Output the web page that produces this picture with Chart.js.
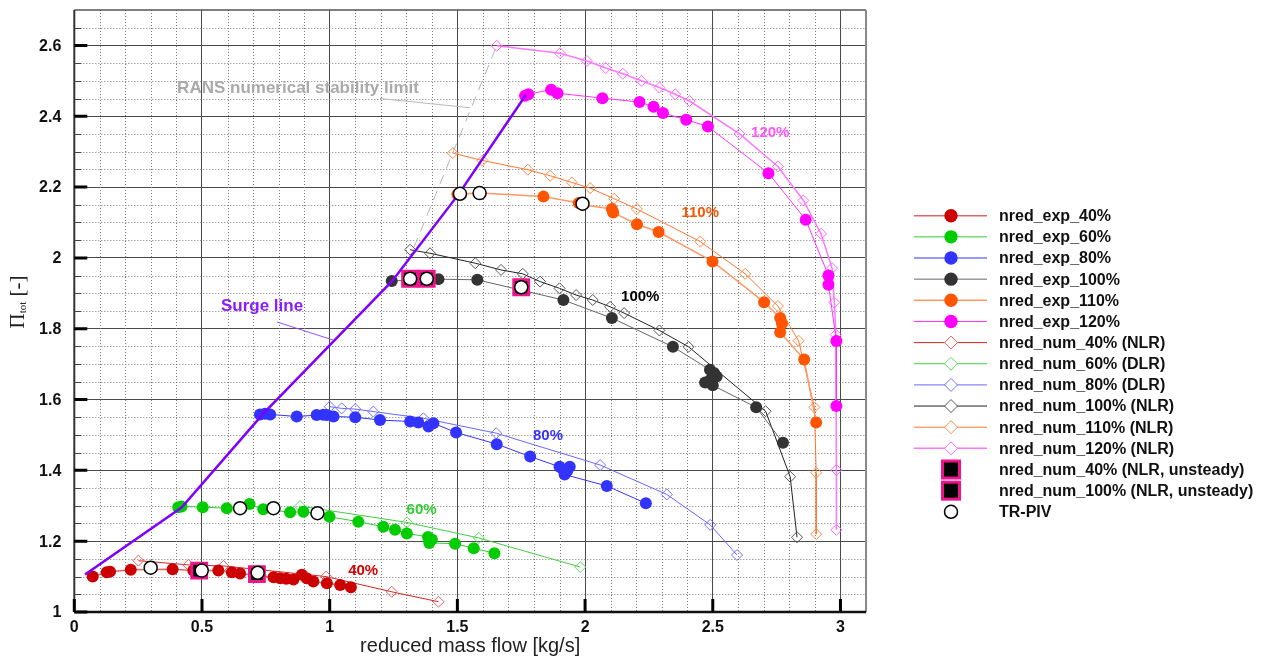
<!DOCTYPE html>
<html>
<head>
<meta charset="utf-8">
<title>Compressor map</title>
<script src="https://cdn.jsdelivr.net/npm/chart.js@4.4.1/dist/chart.umd.min.js"></script>
<style>
  html, body { margin: 0; padding: 0; background: #fff; }
  #wrap { width: 1266px; height: 659px; }
</style>
</head>
<body>
<div id="wrap"><canvas id="mapChart"></canvas></div>
<script>
// measured speed lines
const exp40X = [0.072, 0.127, 0.14, 0.221, 0.385, 0.466, 0.564, 0.617, 0.649, 0.78, 0.806, 0.83, 0.858, 0.891, 0.91, 0.936, 0.989, 1.041, 1.083];
const exp40Y = [1.100, 1.112, 1.114, 1.119, 1.121, 1.117, 1.117, 1.112, 1.109, 1.098, 1.095, 1.094, 1.092, 1.105, 1.095, 1.086, 1.081, 1.076, 1.070];
const exp60X = [0.407, 0.42, 0.503, 0.597, 0.686, 0.74, 0.845, 0.897, 0.949, 0.999, 1.112, 1.21, 1.256, 1.302, 1.385, 1.40, 1.39, 1.491, 1.564, 1.645];
const exp60Y = [1.296, 1.298, 1.296, 1.293, 1.305, 1.290, 1.282, 1.283, 1.279, 1.269, 1.255, 1.241, 1.232, 1.222, 1.212, 1.205, 1.195, 1.193, 1.180, 1.166];
const exp80X = [0.727, 0.747, 0.767, 0.871, 0.949, 0.975, 0.989, 1.015, 1.10, 1.197, 1.315, 1.347, 1.387, 1.406, 1.495, 1.654, 1.785, 1.90, 1.915, 1.94, 1.93, 1.92, 2.085, 2.238];
const exp80Y = [1.558, 1.560, 1.558, 1.552, 1.556, 1.557, 1.556, 1.552, 1.550, 1.542, 1.538, 1.535, 1.524, 1.533, 1.507, 1.474, 1.439, 1.410, 1.401, 1.410, 1.398, 1.388, 1.356, 1.307];
const exp100X = [1.243, 1.426, 1.578, 1.915, 2.105, 2.344, 2.489, 2.505, 2.515, 2.49, 2.47, 2.50, 2.67, 2.775];
const exp100Y = [1.935, 1.940, 1.938, 1.881, 1.830, 1.749, 1.684, 1.675, 1.665, 1.655, 1.648, 1.640, 1.578, 1.478];
const exp110X = [1.50, 1.59, 1.837, 1.975, 1.99, 2.105, 2.11, 2.203, 2.288, 2.499, 2.701, 2.764, 2.771, 2.764, 2.858, 2.905];
const exp110Y = [2.180, 2.183, 2.173, 2.155, 2.150, 2.138, 2.128, 2.095, 2.073, 1.990, 1.875, 1.830, 1.815, 1.790, 1.713, 1.535];
const exp120X = [1.765, 1.778, 1.867, 1.892, 2.068, 2.213, 2.268, 2.305, 2.396, 2.481, 2.718, 2.864, 2.953, 2.953, 2.984, 2.984];
const exp120Y = [2.458, 2.462, 2.475, 2.465, 2.451, 2.440, 2.427, 2.409, 2.390, 2.371, 2.239, 2.108, 1.950, 1.924, 1.765, 1.582];

// simulated speed lines
const num40X = [0.251, 0.447, 0.584, 0.986, 1.243, 1.426];
const num40Y = [1.145, 1.133, 1.130, 1.100, 1.057, 1.029];
const num60X = [0.884, 1.302, 1.584, 1.981];
const num60Y = [1.299, 1.253, 1.209, 1.127];
const num80X = [1.0, 1.047, 1.10, 1.171, 1.367, 1.652, 2.059, 2.32, 2.49, 2.595];
const num80Y = [1.580, 1.575, 1.573, 1.566, 1.547, 1.505, 1.415, 1.332, 1.246, 1.161];
const num100X = [1.315, 1.393, 1.57, 1.671, 1.756, 1.824, 1.90, 1.965, 2.03, 2.098, 2.153, 2.291, 2.405, 2.707, 2.803, 2.83];
const num100Y = [2.023, 2.013, 1.985, 1.966, 1.955, 1.933, 1.914, 1.895, 1.881, 1.862, 1.844, 1.795, 1.749, 1.567, 1.382, 1.211];
const num110X = [1.482, 1.598, 1.776, 1.863, 1.948, 2.02, 2.114, 2.203, 2.451, 2.627, 2.755, 2.836, 2.898, 2.905, 2.905];
const num110Y = [2.296, 2.275, 2.249, 2.232, 2.213, 2.197, 2.167, 2.138, 2.046, 1.955, 1.864, 1.766, 1.578, 1.393, 1.220];
const num120X = [1.654, 1.902, 2.007, 2.081, 2.148, 2.221, 2.291, 2.353, 2.409, 2.605, 2.755, 2.855, 2.924, 2.967, 2.976, 2.982, 2.984, 2.984];
const num120Y = [2.599, 2.578, 2.556, 2.536, 2.520, 2.500, 2.481, 2.462, 2.443, 2.350, 2.258, 2.162, 2.068, 1.971, 1.874, 1.783, 1.401, 1.232];

// unsteady runs and PIV operating points
const unsteady40X = [0.489, 0.715];
const unsteady40Y = [1.117, 1.107];
const unsteady100X = [1.315, 1.38, 1.75];
const unsteady100Y = [1.941, 1.941, 1.917];
const pivX = [0.299, 0.499, 0.718, 0.649, 0.780, 0.952, 1.315, 1.38, 1.75, 1.51, 1.587, 1.99];
const pivY = [1.125, 1.117, 1.111, 1.293, 1.293, 1.279, 1.941, 1.941, 1.917, 2.181, 2.183, 2.153];

// surge line and RANS limit
const surgeX = [0.042, 0.42, 0.74, 1.245, 1.505, 1.768];
const surgeY = [1.106, 1.295, 1.56, 1.935, 2.18, 2.46];
const limitX = [1.33, 1.654];
const limitY = [2.03, 2.599];

const xTicks = [0, 0.5, 1, 1.5, 2, 2.5, 3];
const yTicks = [1, 1.2, 1.4, 1.6, 1.8, 2, 2.2, 2.4, 2.6];

const SANS = '"Liberation Sans", Arial, sans-serif';
const SERIF = '"Liberation Serif", "Times New Roman", serif';

function pts(xs, ys) {
    return xs.map((x, i) => ({ x: x, y: ys[i] }));
}

function expSet(label, xs, ys, marker, line, width) {
    return {
        label: label, data: pts(xs, ys), showLine: true,
        borderColor: line, borderWidth: width,
        pointStyle: 'circle', pointRadius: 6, pointBackgroundColor: marker,
        pointBorderColor: marker, pointBorderWidth: 0,
        order: 3, inLegend: true
    };
}

function numSet(label, xs, ys, marker, line, width) {
    return {
        label: label, data: pts(xs, ys), showLine: true,
        borderColor: line, borderWidth: width,
        pointStyle: 'rectRot', pointRadius: 5.5, pointBackgroundColor: 'rgba(0,0,0,0)',
        pointBorderColor: marker, pointBorderWidth: 1,
        order: 4, inLegend: true
    };
}

function unsteadySet(label, xs, ys) {
    return {
        label: label, data: pts(xs, ys), showLine: false,
        pointStyle: 'rect', pointRadius: 10.5, pointBackgroundColor: '#000',
        pointBorderColor: '#f0148c', pointBorderWidth: 3,
        order: 1, inLegend: true
    };
}

const fmt = v => String(Math.round(v * 100) / 100);

// small marker painter for the legend
function marker(ctx, ds, x, y) {
    ctx.save();
    ctx.setLineDash([]);
    if (ds.pointStyle === 'circle') {
        const r = ds.label === 'TR-PIV' ? 6.5 : 6.7;
        ctx.beginPath();
        ctx.arc(x, y, r, 0, Math.PI * 2);
        ctx.fillStyle = ds.pointBackgroundColor;
        ctx.fill();
        if (ds.pointBorderWidth > 0) {
            ctx.lineWidth = ds.pointBorderWidth;
            ctx.strokeStyle = ds.pointBorderColor;
            ctx.stroke();
        }
    } else if (ds.pointStyle === 'rectRot') {
        const r = 6.5;
        ctx.beginPath();
        ctx.moveTo(x - r, y); ctx.lineTo(x, y - r); ctx.lineTo(x + r, y); ctx.lineTo(x, y + r);
        ctx.closePath();
        ctx.fillStyle = '#fff';
        ctx.fill();
        ctx.lineWidth = 1;
        ctx.strokeStyle = ds.pointBorderColor;
        ctx.stroke();
    } else {
        const h = 8.5;
        ctx.fillStyle = '#000';
        ctx.fillRect(x - h, y - h, 2 * h, 2 * h);
        ctx.lineWidth = 3;
        ctx.strokeStyle = ds.pointBorderColor;
        ctx.strokeRect(x - h, y - h, 2 * h, 2 * h);
    }
    ctx.restore();
}

const speedLegend = {
    id: 'speedLegend',
    afterDraw(chart) {
        const ctx = chart.ctx;
        let row = 0;
        ctx.save();
        chart.data.datasets.forEach(ds => {
            if (!ds.inLegend) return;
            const y = 215.7 + row * 21.15;
            row++;
            if (ds.showLine) {
                ctx.beginPath();
                ctx.moveTo(914, y);
                ctx.lineTo(987, y);
                ctx.lineWidth = ds.borderWidth;
                ctx.strokeStyle = ds.borderColor;
                ctx.stroke();
            }
            marker(ctx, ds, 951, y);
            ctx.fillStyle = '#111';
            ctx.font = 'bold 16px ' + SANS;
            ctx.textAlign = 'left';
            ctx.textBaseline = 'middle';
            ctx.fillText(ds.label, 999, y + 1);
        });
        ctx.restore();
    }
};

const minorGrid = {
    id: 'minorGrid',
    beforeDatasetsDraw(chart) {
        const { ctx, chartArea: a, scales: { x, y } } = chart;
        ctx.save();
        ctx.strokeStyle = '#7a7a7a';
        ctx.lineWidth = 1;
        ctx.setLineDash([1, 2]);
        ctx.beginPath();
        for (let i = 1; i <= 30; i++) {
            if (i % 5 === 0) continue;
            const px = Math.round(x.getPixelForValue(i / 10)) + 0.5;
            ctx.moveTo(px, a.top);
            ctx.lineTo(px, a.bottom);
        }
        for (let j = 1; j <= 33; j++) {
            if (j % 4 === 0) continue;
            const py = Math.round(y.getPixelForValue(1 + j * 0.05)) + 0.5;
            ctx.moveTo(a.left, py);
            ctx.lineTo(a.right, py);
        }
        ctx.stroke();
        ctx.restore();
    }
};

// plot frame, inward tick marks, y tick labels and the y title with its subscript
const frame = {
    id: 'frame',
    afterDraw(chart) {
        const { ctx, chartArea: a, scales: { x, y } } = chart;
        ctx.save();
        ctx.lineWidth = 1.5; ctx.strokeStyle = '#555';
        ctx.beginPath(); ctx.moveTo(a.left, a.top); ctx.lineTo(a.right, a.top); ctx.stroke();
        ctx.lineWidth = 2; ctx.strokeStyle = '#8a8a8a';
        ctx.beginPath(); ctx.moveTo(a.right, a.top); ctx.lineTo(a.right, a.bottom); ctx.stroke();
        ctx.lineWidth = 2; ctx.strokeStyle = '#333';
        ctx.beginPath(); ctx.moveTo(a.left, a.top); ctx.lineTo(a.left, a.bottom); ctx.stroke();
        ctx.lineWidth = 2.5; ctx.strokeStyle = '#111';
        ctx.beginPath(); ctx.moveTo(a.left, a.bottom); ctx.lineTo(a.right, a.bottom); ctx.stroke();

        ctx.strokeStyle = '#444'; ctx.lineWidth = 1;
        ctx.beginPath();
        for (let j = 1; j <= 33; j++) {
            if (j % 4 === 0) continue;
            const py = Math.round(y.getPixelForValue(1 + j * 0.05)) + 0.5;
            ctx.moveTo(a.left, py); ctx.lineTo(a.left + 7, py);
        }
        ctx.stroke();
        ctx.strokeStyle = '#000'; ctx.lineWidth = 3;
        ctx.beginPath();
        yTicks.forEach(v => {
            const py = y.getPixelForValue(v);
            ctx.moveTo(a.left, py); ctx.lineTo(a.left + 13, py);
        });
        xTicks.forEach(v => {
            const px = x.getPixelForValue(v);
            ctx.moveTo(px, a.bottom); ctx.lineTo(px, a.bottom - 13);
        });
        ctx.stroke();

        ctx.fillStyle = '#111';
        ctx.font = 'bold 16px ' + SANS;
        ctx.textAlign = 'right';
        ctx.textBaseline = 'middle';
        yTicks.forEach(v => ctx.fillText(fmt(v), a.left - 13, y.getPixelForValue(v) + 1));

        ctx.translate(18, 302);
        ctx.rotate(-Math.PI / 2);
        ctx.fillStyle = '#222';
        ctx.textBaseline = 'middle';
        ctx.textAlign = 'left';
        ctx.font = '21px ' + SERIF;
        const w1 = ctx.measureText('\u03a0').width;
        const w3 = ctx.measureText(' [-]').width;
        ctx.font = '11px ' + SERIF;
        const w2 = ctx.measureText('tot').width;
        let cx = -(w1 + w2 + w3) / 2;
        ctx.font = '21px ' + SERIF;
        ctx.fillText('\u03a0', cx, 0);
        cx += w1;
        ctx.font = '11px ' + SERIF;
        ctx.fillText('tot', cx, 5);
        cx += w2;
        ctx.font = '21px ' + SERIF;
        ctx.fillText(' [-]', cx, 0);
        ctx.restore();
    }
};

// speed labels and callouts, placed in data units
const notes = {
    id: 'notes',
    afterDatasetsDraw(chart, args, opts) {
        const { ctx, scales: { x, y } } = chart;
        ctx.save();
        opts.leaders.forEach(l => {
            ctx.beginPath();
            ctx.moveTo(x.getPixelForValue(l.from[0]), y.getPixelForValue(l.from[1]));
            ctx.lineTo(x.getPixelForValue(l.to[0]), y.getPixelForValue(l.to[1]));
            ctx.lineWidth = 1;
            ctx.strokeStyle = l.color;
            ctx.stroke();
        });
        ctx.textAlign = 'center';
        ctx.textBaseline = 'middle';
        opts.labels.forEach(t => {
            ctx.font = 'bold ' + t.size + 'px ' + SANS;
            ctx.fillStyle = t.color;
            ctx.fillText(t.text, x.getPixelForValue(t.at[0]), y.getPixelForValue(t.at[1]));
        });
        ctx.restore();
    }
};

const datasets = [
    expSet('nred_exp_40%', exp40X, exp40Y, '#cc0000', '#e06666', 1.5),
    expSet('nred_exp_60%', exp60X, exp60Y, '#00cc00', '#33cc33', 1),
    expSet('nred_exp_80%', exp80X, exp80Y, '#3333ff', '#3333ff', 1),
    expSet('nred_exp_100%', exp100X, exp100Y, '#333333', '#666666', 1),
    expSet('nred_exp_110%', exp110X, exp110Y, '#ff5500', '#ff9966', 1.5),
    expSet('nred_exp_120%', exp120X, exp120Y, '#ff00ff', '#ff33ff', 1),
    numSet('nred_num_40% (NLR)', num40X, num40Y, '#e06060', '#dd2222', 1),
    numSet('nred_num_60% (DLR)', num60X, num60Y, '#55dd55', '#44cc44', 1),
    numSet('nred_num_80% (DLR)', num80X, num80Y, '#7070ff', '#6666ff', 1),
    numSet('nred_num_100% (NLR)', num100X, num100Y, '#555555', '#222222', 1),
    numSet('nred_num_110% (NLR)', num110X, num110Y, '#ff8844', '#ff7733', 1),
    numSet('nred_num_120% (NLR)', num120X, num120Y, '#ff66ff', '#ff77ff', 1.5),
    unsteadySet('nred_num_40% (NLR, unsteady)', unsteady40X, unsteady40Y),
    unsteadySet('nred_num_100% (NLR, unsteady)', unsteady100X, unsteady100Y),
    {
        label: 'TR-PIV', data: pts(pivX, pivY), showLine: false,
        pointStyle: 'circle', pointRadius: 6.5, pointBackgroundColor: '#fff',
        pointBorderColor: '#000', pointBorderWidth: 1.5, order: 0, inLegend: true
    },
    {
        label: 'Surge line', data: pts(surgeX, surgeY), showLine: true,
        borderColor: '#7f00ff', borderWidth: 2.5, pointRadius: 0, order: 2
    },
    {
        label: 'RANS limit', data: pts(limitX, limitY), showLine: true,
        borderColor: '#b4b4b4', borderWidth: 1, borderDash: [10, 7], pointRadius: 0, order: 5
    }
];

const ctx = document.getElementById('mapChart').getContext('2d');
const mapChart = new Chart(ctx, {
    type: 'scatter',
    data: { datasets: datasets },
    options: {
        responsive: true,
        maintainAspectRatio: false,
        animation: false,
        events: [],
        layout: { autoPadding: false, padding: { left: 0, top: 10, right: 400, bottom: 0 } },
        scales: {
            x: {
                type: 'linear', min: 0, max: 3.1,
                ticks: {
                    stepSize: 0.5, includeBounds: false, padding: 6, color: '#111',
                    maxRotation: 0, autoSkip: false,
                    font: { family: SANS, size: 16, weight: 'bold' }, callback: fmt
                },
                grid: { color: '#4a4a4a', lineWidth: 1, drawTicks: false },
                border: { display: false },
                title: {
                    display: true, text: 'reduced mass flow [kg/s]', color: '#222',
                    font: { family: SANS, size: 20 }, padding: { top: 0, bottom: 1 }
                },
                afterFit: s => { s.height = 47; }
            },
            y: {
                type: 'linear', min: 1, max: 2.7,
                ticks: { stepSize: 0.2, includeBounds: false, display: false },
                grid: { color: '#4a4a4a', lineWidth: 1, drawTicks: false },
                border: { display: false },
                afterFit: s => { s.width = 74.3; }
            }
        },
        plugins: {
            legend: { display: false },
            tooltip: { enabled: false },
            notes: {
                leaders: [
                    { from: [1.197, 2.45], to: [1.55, 2.424], color: '#b8b8b8' },
                    { from: [0.794, 1.819], to: [1.013, 1.768], color: '#9a4dff' }
                ],
                labels: [
                    { text: 'RANS numerical stability limit', at: [0.876, 2.48], color: '#aaaaaa', size: 17 },
                    { text: 'Surge line', at: [0.735, 1.862], color: '#8a1cff', size: 17 },
                    { text: '120%', at: [2.725, 2.353], color: '#ff55ff', size: 15 },
                    { text: '110%', at: [2.451, 2.127], color: '#ff5500', size: 15 },
                    { text: '100%', at: [2.216, 1.890], color: '#000000', size: 15 },
                    { text: '80%', at: [1.855, 1.497], color: '#3333ff', size: 15 },
                    { text: '60%', at: [1.360, 1.288], color: '#33cc33', size: 15 },
                    { text: '40%', at: [1.131, 1.116], color: '#dd0000', size: 15 }
                ]
            }
        }
    },
    plugins: [minorGrid, notes, frame, speedLegend]
});
</script>
</body>
</html>
